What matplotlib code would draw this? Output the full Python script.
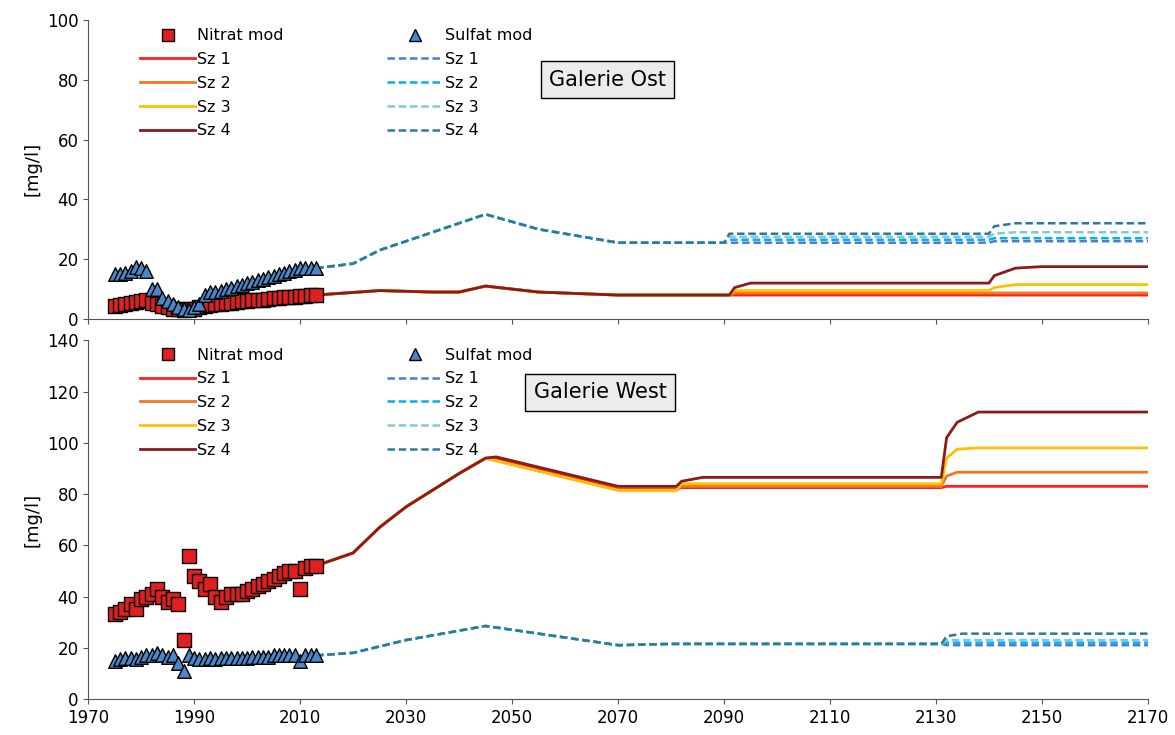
import matplotlib.pyplot as plt
from matplotlib.lines import Line2D

# observed points
yrs = list(range(1975, 2014))
ost_no3 = [4.5, 4.8, 5, 5.3, 5.6, 6, 6.2, 5.5, 5, 4.5, 4, 3.5, 3.2, 3, 3.2, 3.5, 4,
           4.3, 4.6, 4.9, 5.1, 5.3, 5.5, 5.7, 5.9, 6, 6.2, 6.4, 6.5, 6.7, 6.9, 7,
           7.2, 7.3, 7.5, 7.6, 7.8, 8, 8]
ost_so4 = [15, 15, 15.5, 16, 17.5, 17, 16, 10, 10, 7, 6, 5, 4, 3.5, 3, 4, 5, 8,
           9, 9, 9.5, 10, 10.5, 11, 11.5, 12, 12.5, 13, 13.5, 14, 14.5, 15, 15.5,
           16, 16.5, 17, 17, 17, 17]
west_no3 = [33, 34, 35, 37, 35, 39, 40, 41, 43, 40, 38, 39, 37, 23, 56, 48, 46,
            43, 45, 40, 38, 40, 41, 41, 41, 42, 43, 44, 45, 46, 47, 48, 49, 50,
            50, 43, 51, 52, 52]
west_so4 = [15, 15.5, 16, 16, 15.5, 16.5, 17, 17, 18, 17, 16.5, 17, 14, 11, 17,
            16, 15.5, 15.5, 16, 15.5, 16, 16, 16, 16, 16, 16, 16.5, 16.5, 16.5,
            16.5, 17, 17, 17, 17, 17, 15, 17, 17, 17]

# model scenarios
ost_n_x = [2013, 2025, 2035, 2040, 2045, 2055, 2070, 2091, 2092, 2095, 2140, 2141, 2145, 2150, 2170]
ost_n = {
    1: [8, 9.5, 9, 9, 11, 9, 8, 8, 8, 8, 8, 8, 8, 8, 8],
    2: [8, 9.5, 9, 9, 11, 9, 8, 8, 8.7, 8.7, 8.7, 8.7, 8.7, 8.7, 8.7],
    3: [8, 9.5, 9, 9, 11, 9, 8, 8, 9.5, 9.5, 9.5, 10.5, 11.5, 11.5, 11.5],
    4: [8, 9.5, 9, 9, 11, 9, 8, 8, 10.5, 12, 12, 14.5, 17, 17.5, 17.5],
}
ost_s_x = [2013, 2020, 2025, 2035, 2045, 2055, 2070, 2090, 2091, 2140, 2141, 2145, 2170]
ost_s = {
    1: [17, 18.5, 23, 29, 35, 30, 25.5, 25.5, 25.5, 25.5, 26, 26, 26],
    2: [17, 18.5, 23, 29, 35, 30, 25.5, 25.5, 26.5, 26.5, 27, 27, 27],
    3: [17, 18.5, 23, 29, 35, 30, 25.5, 25.5, 27.5, 27.5, 28.5, 29, 29],
    4: [17, 18.5, 23, 29, 35, 30, 25.5, 25.5, 28.5, 28.5, 31, 32, 32],
}
west_n_x = [2013, 2020, 2025, 2030, 2040, 2045, 2047, 2070, 2081, 2082, 2086, 2131, 2132, 2134, 2138, 2170]
west_n = {
    1: [52, 57, 67, 75, 88, 94, 94, 82, 82, 82.5, 82.5, 82.5, 83, 83, 83, 83],
    2: [52, 57, 67, 75, 88, 94, 93, 81.5, 81.5, 83, 83, 83, 87, 88.5, 88.5, 88.5],
    3: [52, 57, 67, 75, 88, 94, 93, 81.5, 81.5, 84, 84, 84, 94, 97.5, 98, 98],
    4: [52, 57, 67, 75, 88, 94, 94.5, 83, 83, 85, 86.5, 86.5, 102, 108, 112, 112],
}
west_s_x = [2013, 2020, 2030, 2045, 2070, 2080, 2131, 2132, 2135, 2170]
west_s = {
    1: [17, 18, 23, 28.5, 21, 21.5, 21.5, 21, 21, 21],
    2: [17, 18, 23, 28.5, 21, 21.5, 21.5, 22, 22, 22],
    3: [17, 18, 23, 28.5, 21, 21.5, 21.5, 23, 23, 23],
    4: [17, 18, 23, 28.5, 21, 21.5, 21.5, 24.5, 25.5, 25.5],
}

n_cols = {1: "#ff2020", 2: "#f07820", 3: "#ffc000", 4: "#8b1a1a"}
s_cols = {1: "#4a7ec8", 2: "#00b0f0", 3: "#80c8e0", 4: "#2a7a9a"}

fig = plt.figure(figsize=(11.75, 7.35), dpi=100)
ax1 = fig.add_axes([0.075, 0.566, 0.902, 0.407])
ax2 = fig.add_axes([0.075, 0.049, 0.902, 0.488])


def draw(ax, nx, nd, sx, sd, no3, so4, ymax, title, tx, ty, xlabels):
    for k in [1, 2, 3, 4]:
        ax.plot(nx, nd[k], color=n_cols[k], lw=2, zorder=2 + k * 0.1)
    for k in [1, 2, 3, 4]:
        ax.plot(sx, sd[k], color=s_cols[k], lw=1.8, ls=(0, (3, 1.5)), zorder=2 + k * 0.1)
    ax.scatter(yrs, no3, marker="s", s=95, c="#e02020", edgecolors="black", lw=1, zorder=5)
    ax.scatter(yrs, so4, marker="^", s=95, c="#4a86c8", edgecolors="black", lw=1, zorder=6)
    ax.set_xlim(1970, 2170)
    ax.set_ylim(0, ymax)
    ax.set_xticks(range(1970, 2171, 20))
    ax.set_yticks(range(0, ymax + 1, 20))
    if not xlabels:
        ax.set_xticklabels([])
    for s in ["top", "right"]:
        ax.spines[s].set_visible(False)
    ax.spines["left"].set_color("#555555")
    ax.spines["bottom"].set_color("#555555")
    ax.tick_params(labelsize=12, direction="out", color="#555555")
    ax.set_ylabel("[mg/l]", fontsize=13)
    ax.text(tx, ty, title, transform=ax.transAxes, fontsize=15, ha="center", va="center",
            bbox=dict(boxstyle="square,pad=0.4", fc="#ececec", ec="black", lw=1))
    h = [Line2D([], [], marker="s", ls="", color="#e02020", mec="black", ms=9)]
    h += [Line2D([], [], color=n_cols[k], lw=2) for k in [1, 2, 3, 4]]
    h += [Line2D([], [], marker="^", ls="", color="#4a86c8", mec="black", ms=9)]
    h += [Line2D([], [], color=s_cols[k], lw=1.8, ls=(0, (3, 1.5))) for k in [1, 2, 3, 4]]
    labels = ["Nitrat mod", "Sz 1", "Sz 2", "Sz 3", "Sz 4", "Sulfat mod", "Sz 1", "Sz 2", "Sz 3", "Sz 4"]
    ax.legend(h, labels, ncol=2, loc="upper left", bbox_to_anchor=(0.035, 1.02), frameon=False,
              fontsize=11.5, handlelength=3.5, handletextpad=0.1, columnspacing=6.5,
              labelspacing=0.55)


draw(ax1, ost_n_x, ost_n, ost_s_x, ost_s, ost_no3, ost_so4, 100, "Galerie Ost", 0.49, 0.8, False)
draw(ax2, west_n_x, west_n, west_s_x, west_s, west_no3, west_so4, 140, "Galerie West", 0.483, 0.855, True)

fig.savefig("out.png")
